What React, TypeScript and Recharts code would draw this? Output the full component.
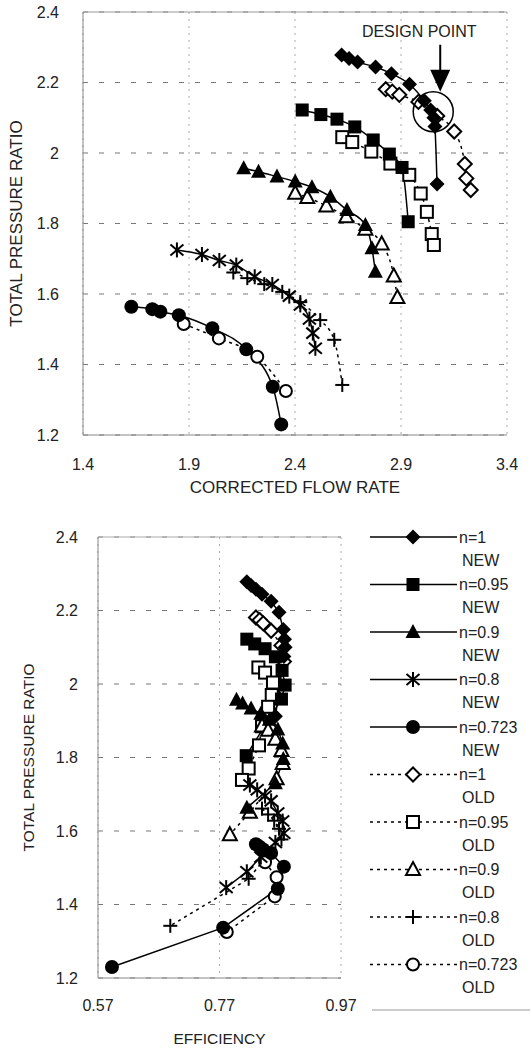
import React from 'react';
import { LineChart, Line, XAxis, YAxis, CartesianGrid, ReferenceLine, ReferenceDot, Legend } from 'recharts';

// pressure ratio / corrected flow / efficiency, one point per operating condition
const prN1New = [2.278, 2.268, 2.258, 2.244, 2.225, 2.195, 2.148, 2.122, 2.1, 2.075, 1.912];
const flowN1New = [2.62, 2.655, 2.695, 2.78, 2.855, 2.94, 3.01, 3.04, 3.055, 3.06, 3.07];
const effN1New = [0.815, 0.822, 0.83, 0.84, 0.855, 0.868, 0.875, 0.877, 0.878, 0.876, 0.862];

const prN95New = [2.122, 2.109, 2.096, 2.074, 2.037, 1.997, 1.959, 1.805];
const flowN95New = [2.434, 2.522, 2.598, 2.682, 2.769, 2.845, 2.905, 2.934];
const effN95New = [0.815, 0.828, 0.845, 0.862, 0.873, 0.878, 0.872, 0.814];

const prN90New = [1.957, 1.947, 1.933, 1.919, 1.903, 1.876, 1.838, 1.796, 1.73, 1.663];
const flowN90New = [2.158, 2.228, 2.315, 2.401, 2.48, 2.567, 2.645, 2.732, 2.763, 2.779];
const effN90New = [0.798, 0.808, 0.822, 0.838, 0.852, 0.866, 0.874, 0.875, 0.862, 0.815];

const prN80New = [1.725, 1.712, 1.695, 1.682, 1.649, 1.627, 1.594, 1.569, 1.529, 1.489, 1.446];
const flowN80New = [1.843, 1.961, 2.043, 2.123, 2.21, 2.293, 2.373, 2.425, 2.468, 2.484, 2.496];
const effN80New = [0.82, 0.832, 0.845, 0.855, 0.866, 0.874, 0.876, 0.862, 0.838, 0.815, 0.781];

const prN723New = [1.564, 1.557, 1.55, 1.54, 1.503, 1.443, 1.337, 1.23];
const flowN723New = [1.628, 1.727, 1.765, 1.852, 2.01, 2.17, 2.295, 2.335];
const effN723New = [0.83, 0.836, 0.842, 0.855, 0.876, 0.866, 0.776, 0.593];

const prN1Old = [2.181, 2.174, 2.165, 2.145, 2.105, 2.061, 1.969, 1.928, 1.895];
const flowN1Old = [2.828, 2.859, 2.892, 2.982, 3.071, 3.151, 3.201, 3.208, 3.229];
const effN1Old = [0.83, 0.836, 0.842, 0.855, 0.872, 0.876, 0.862, 0.85, 0.842];

const prN95Old = [2.045, 2.031, 2.004, 1.97, 1.938, 1.885, 1.833, 1.77, 1.739];
const flowN95Old = [2.623, 2.67, 2.76, 2.85, 2.939, 2.993, 3.022, 3.045, 3.055];
const effN95Old = [0.834, 0.845, 0.858, 0.856, 0.85, 0.84, 0.835, 0.818, 0.807];

const prN90Old = [1.886, 1.874, 1.85, 1.819, 1.784, 1.742, 1.651, 1.59];
const flowN90Old = [2.401, 2.458, 2.548, 2.642, 2.732, 2.809, 2.866, 2.883];
const effN90Old = [0.84, 0.85, 0.862, 0.872, 0.874, 0.864, 0.82, 0.787];

const prN80Old = [1.661, 1.645, 1.628, 1.606, 1.577, 1.526, 1.47, 1.342];
const flowN80Old = [2.109, 2.175, 2.255, 2.34, 2.425, 2.519, 2.585, 2.623];
const effN80Old = [0.84, 0.85, 0.86, 0.868, 0.872, 0.845, 0.818, 0.689];

const prN723Old = [1.515, 1.474, 1.422, 1.325];
const flowN723Old = [1.875, 2.041, 2.222, 2.357];
const effN723Old = [0.845, 0.864, 0.861, 0.782];

const flowTicks = [1.4, 1.9, 2.4, 2.9, 3.4];
const effTicks = [0.57, 0.77, 0.97];
const prTicks = [1.2, 1.4, 1.6, 1.8, 2, 2.2, 2.4];

const FONT = '"Liberation Sans", Arial, sans-serif';

type S = { key: string; name: string; tag: string; marker: string; dashed: boolean; flow: number[]; eff: number[]; pr: number[] };

const series: S[] = [
  { key: 'n1new', name: 'n=1', tag: 'NEW', marker: 'diamond', dashed: false, flow: flowN1New, eff: effN1New, pr: prN1New },
  { key: 'n95new', name: 'n=0.95', tag: 'NEW', marker: 'square', dashed: false, flow: flowN95New, eff: effN95New, pr: prN95New },
  { key: 'n90new', name: 'n=0.9', tag: 'NEW', marker: 'triangle', dashed: false, flow: flowN90New, eff: effN90New, pr: prN90New },
  { key: 'n80new', name: 'n=0.8', tag: 'NEW', marker: 'star', dashed: false, flow: flowN80New, eff: effN80New, pr: prN80New },
  { key: 'n723new', name: 'n=0.723', tag: 'NEW', marker: 'circle', dashed: false, flow: flowN723New, eff: effN723New, pr: prN723New },
  { key: 'n1old', name: 'n=1', tag: 'OLD', marker: 'diamondOpen', dashed: true, flow: flowN1Old, eff: effN1Old, pr: prN1Old },
  { key: 'n95old', name: 'n=0.95', tag: 'OLD', marker: 'squareOpen', dashed: true, flow: flowN95Old, eff: effN95Old, pr: prN95Old },
  { key: 'n90old', name: 'n=0.9', tag: 'OLD', marker: 'triangleOpen', dashed: true, flow: flowN90Old, eff: effN90Old, pr: prN90Old },
  { key: 'n80old', name: 'n=0.8', tag: 'OLD', marker: 'plus', dashed: true, flow: flowN80Old, eff: effN80Old, pr: prN80Old },
  { key: 'n723old', name: 'n=0.723', tag: 'OLD', marker: 'circleOpen', dashed: true, flow: flowN723Old, eff: effN723Old, pr: prN723Old },
];

// old series drawn first so the filled markers sit on top
const drawOrder = [...series.filter((s) => s.dashed), ...series.filter((s) => !s.dashed)];

const Marker = ({ kind, cx, cy }: { kind: string; cx: number; cy: number }) => {
  if (cx == null || cy == null) return null;
  switch (kind) {
    case 'diamond':
      return <polygon points={`${cx},${cy - 7.5} ${cx + 7.5},${cy} ${cx},${cy + 7.5} ${cx - 7.5},${cy}`} fill="#000" />;
    case 'diamondOpen':
      return <polygon points={`${cx},${cy - 7} ${cx + 7},${cy} ${cx},${cy + 7} ${cx - 7},${cy}`} fill="#fff" stroke="#000" strokeWidth={2} />;
    case 'square':
      return <rect x={cx - 6.5} y={cy - 6.5} width={13} height={13} fill="#000" />;
    case 'squareOpen':
      return <rect x={cx - 6} y={cy - 6} width={12} height={12} fill="#fff" stroke="#000" strokeWidth={2} />;
    case 'triangle':
      return <polygon points={`${cx},${cy - 8} ${cx + 7.5},${cy + 6} ${cx - 7.5},${cy + 6}`} fill="#000" />;
    case 'triangleOpen':
      return <polygon points={`${cx},${cy - 7.5} ${cx + 7},${cy + 5.5} ${cx - 7},${cy + 5.5}`} fill="#fff" stroke="#000" strokeWidth={2} />;
    case 'star':
      return (
        <g stroke="#000" strokeWidth={2}>
          <line x1={cx - 6.5} y1={cy - 5.5} x2={cx + 6.5} y2={cy + 5.5} />
          <line x1={cx - 6.5} y1={cy + 5.5} x2={cx + 6.5} y2={cy - 5.5} />
          <line x1={cx} y1={cy - 7.5} x2={cx} y2={cy + 7.5} />
        </g>
      );
    case 'plus':
      return (
        <g stroke="#000" strokeWidth={2}>
          <line x1={cx - 7} y1={cy} x2={cx + 7} y2={cy} />
          <line x1={cx} y1={cy - 7} x2={cx} y2={cy + 7} />
        </g>
      );
    case 'circle':
      return <circle cx={cx} cy={cy} r={7} fill="#000" />;
    default:
      return <circle cx={cx} cy={cy} r={6} fill="#fff" stroke="#000" strokeWidth={2} />;
  }
};

const renderLines = (xKey: 'flow' | 'eff', curve: 'monotone' | 'linear') =>
  drawOrder.map((s) => (
    <Line
      key={s.key}
      name={`${s.name} ${s.tag}`}
      data={s[xKey].map((x, i) => ({ x, y: s.pr[i] }))}
      dataKey="y"
      type={curve}
      stroke="#000"
      strokeWidth={1.5}
      strokeDasharray={s.dashed ? '3 4' : undefined}
      dot={(p: any) => (
        <g key={`${s.key}-${p.index}`}>
          <Marker kind={s.marker} cx={p.cx} cy={p.cy} />
        </g>
      )}
      activeDot={false}
      isAnimationActive={false}
    />
  ));

const LegendBox = () => (
  <svg width={184} height={490} style={{ display: 'block' }}>
    {series.map((s, i) => {
      const y = 10 + i * 47.5;
      return (
        <g key={s.key}>
          <line x1={22} x2={109} y1={y} y2={y} stroke="#000" strokeWidth={1.5} strokeDasharray={s.dashed ? '3 4' : undefined} />
          <Marker kind={s.marker} cx={65} cy={y} />
          <text x={111} y={y + 5.5} fontSize={16} fontFamily={FONT} fill="#222">{s.name}</text>
          <text x={114} y={y + 28.5} fontSize={16} fontFamily={FONT} fill="#222">{s.tag}</text>
        </g>
      );
    })}
    <line x1={24} x2={182} y1={483} y2={483} stroke="#999" />
  </svg>
);

const DesignPoint = (p: any) => {
  const { cx, cy } = p;
  const ax = cx + 7;
  return (
    <g>
      <circle cx={cx} cy={cy} r={20} fill="none" stroke="#000" strokeWidth={1.5} />
      <line x1={ax} y1={cy - 67} x2={ax} y2={cy - 40} stroke="#000" strokeWidth={2} />
      <polygon points={`${ax - 10},${cy - 42} ${ax + 10},${cy - 42} ${ax},${cy - 20}`} fill="#000" />
      <text x={cx - 14} y={cy - 75} textAnchor="middle" fontSize={16} fontFamily={FONT} fill="#222">DESIGN POINT</text>
    </g>
  );
};

const tickStyle = { fontSize: 16, fill: '#222', fontFamily: FONT };

export default function App() {
  return (
    <div style={{ position: 'absolute', left: 0, top: 0, width: 532, height: 1052, background: '#fff' }}>
      <LineChart width={532} height={520} margin={{ top: 12, right: 25, left: 0, bottom: 15 }}>
        <CartesianGrid vertical={false} stroke="#777" strokeDasharray="5 11" />
        <CartesianGrid horizontal={false} stroke="#aaa" strokeDasharray="2 5" />
        <XAxis
          dataKey="x"
          type="number"
          domain={[1.4, 3.4]}
          ticks={flowTicks}
          allowDataOverflow
          height={70}
          tickSize={0}
          tickMargin={24}
          tick={tickStyle}
          axisLine={{ stroke: '#888' }}
          tickLine={false}
          label={{ value: 'CORRECTED FLOW RATE', position: 'insideBottom', offset: 12, style: { fontSize: 17, fill: '#222', fontFamily: FONT } }}
        />
        <YAxis
          type="number"
          domain={[1.2, 2.4]}
          ticks={prTicks}
          allowDataOverflow
          width={83}
          tickSize={0}
          tickMargin={24}
          tick={tickStyle}
          axisLine={{ stroke: '#888' }}
          tickLine={false}
          label={{ value: 'TOTAL PRESSURE RATIO', angle: -90, position: 'insideLeft', offset: 16, style: { textAnchor: 'middle', fontSize: 17, fill: '#222', fontFamily: FONT } }}
        />
        <ReferenceLine y={2.4} stroke="#999" />
        {renderLines('flow', 'monotone')}
        <ReferenceDot x={3.052} y={2.117} r={20} shape={DesignPoint} />
      </LineChart>

      <LineChart width={532} height={532} margin={{ top: 17, right: 7, left: 0, bottom: 6 }}>
        <CartesianGrid vertical={false} stroke="#777" strokeDasharray="5 11" />
        <CartesianGrid horizontal={false} stroke="#aaa" strokeDasharray="2 5" />
        <XAxis
          dataKey="x"
          type="number"
          domain={[0.57, 0.97]}
          ticks={effTicks}
          allowDataOverflow
          height={68}
          tickSize={0}
          tickMargin={22}
          tick={tickStyle}
          axisLine={{ stroke: '#888' }}
          tickLine={false}
          label={{ value: 'EFFICIENCY', position: 'insideBottom', offset: 2, style: { fontSize: 15.5, fill: '#222', fontFamily: FONT } }}
        />
        <YAxis
          type="number"
          domain={[1.2, 2.4]}
          ticks={prTicks}
          allowDataOverflow
          width={98}
          tickSize={0}
          tickMargin={20}
          tick={tickStyle}
          axisLine={{ stroke: '#888' }}
          tickLine={false}
          label={{ value: 'TOTAL PRESSURE RATIO', angle: -90, position: 'insideLeft', offset: 28, style: { textAnchor: 'middle', fontSize: 15.5, fill: '#222', fontFamily: FONT } }}
        />
        <ReferenceLine y={2.4} stroke="#aaa" />
        {renderLines('eff', 'linear')}
        <Legend
          layout="vertical"
          align="right"
          verticalAlign="top"
          content={() => <LegendBox />}
          wrapperStyle={{ left: 348, top: 7, width: 184 }}
        />
      </LineChart>
    </div>
  );
}
